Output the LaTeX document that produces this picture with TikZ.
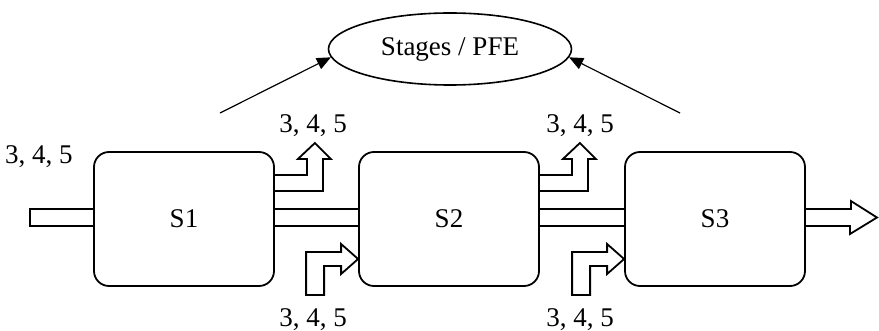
\documentclass[tikz,border=0pt]{standalone}
\usepackage{fontspec}
\setmainfont{Liberation Serif}
\usepackage{tikz}
\usetikzlibrary{shapes,arrows.meta}

\begin{document}
\begin{tikzpicture}[x=1pt,y=-1pt]
\tikzstyle{stage}=[
	draw,
	line width=1.8pt,
	rounded corners=15pt,
	minimum width=180pt,
	minimum height=134pt,
	inner sep=0pt ]
\tikzstyle{pfe}=[
	draw,
	ellipse,
	line width=1.6pt,
	minimum width=243pt,
	minimum height=72pt,
	inner sep=0pt ]
\tikzstyle{flow}=[line width=1.8pt, line join=miter]
\tikzstyle{feed}=[line width=1.2pt, -{Triangle[length=14pt,width=12pt]}]
\tikzstyle{lab}=[inner sep=0pt]
\useasboundingbox (0,0) rectangle (879,331);
\fontsize{27}{31}\selectfont
\node[stage] (s1) at (184,219) {S1};
\node[stage] (s2) at (449,219) {S2};
\node[stage] (s3) at (715,219) {S3};
\node[pfe] (pf) at (450,49) {Stages / PFE};
% labels
\node[lab] (inlab) at (39,157) {3, 4, 5};
\node[lab] (out1lab) at (313,126) {3, 4, 5};
\node[lab] (out2lab) at (580,126) {3, 4, 5};
\node[lab] (in2lab) at (313,320) {3, 4, 5};
\node[lab] (in3lab) at (580,320) {3, 4, 5};
% main flow
\draw[flow] (s1.west |- 0,209) -- ++(-63,0) -- ++(0,17) -- ++(63,0);
\draw[flow] (s1.east |- 0,209) -- (s2.west |- 0,209);
\draw[flow] (s1.east |- 0,226) -- (s2.west |- 0,226);
\draw[flow] (s2.east |- 0,209) -- (s3.west |- 0,209);
\draw[flow] (s2.east |- 0,226) -- (s3.west |- 0,226);
\draw[flow] (s3.east |- 0,209) -- ++(45,0) -- ++(0,-8) -- (877,217.5)
	-- (850,234) -- ++(0,-8) -- (s3.east |- 0,226);
% outputs
\draw[flow] (s1.east |- 0,175) -- ++(32,0) -- ++(0,-16) -- ++(-9,0) -- ++(17,-16)
	-- ++(16,16) -- ++(-8,0) -- ++(0,32) -- ++(-48,0);
\draw[flow] (s2.east |- 0,175) -- ++(32,0) -- ++(0,-16) -- ++(-9,0) -- ++(17,-16)
	-- ++(16,16) -- ++(-8,0) -- ++(0,32) -- ++(-48,0);
% inputs
\draw[flow] (s2.west |- 0,259) -- ++(-17,-15) -- ++(0,8) -- ++(-35,0) -- ++(0,43)
	-- ++(18,0) -- ++(0,-29) -- ++(17,0) -- ++(0,8) -- cycle;
\draw[flow] (s3.west |- 0,259) -- ++(-17,-15) -- ++(0,8) -- ++(-35,0) -- ++(0,43)
	-- ++(18,0) -- ++(0,-29) -- ++(17,0) -- ++(0,8) -- cycle;
% to PFE
\coordinate (f1) at (220,113);
\coordinate (f3) at (680,113);
\draw[feed] (f1) -- (pf.184);
\draw[feed] (f3) -- (pf.-4);
\end{tikzpicture}
\end{document}
